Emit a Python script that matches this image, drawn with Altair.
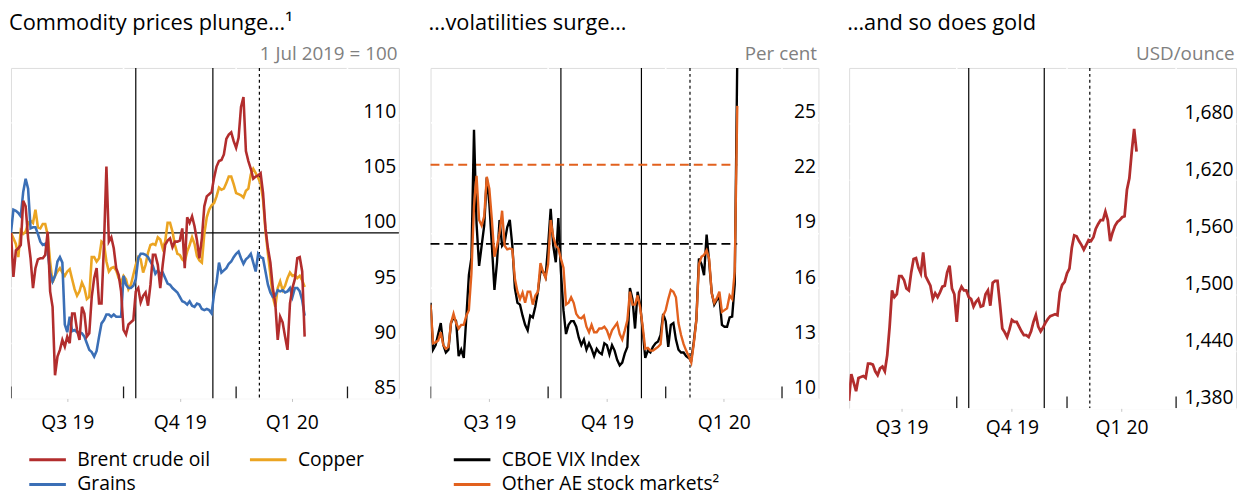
import altair as alt
import pandas as pd

FONT = "Open Sans"
RED = "#b22d2d"
COPPER = "#eba422"
GRAIN = "#3b6fb6"
ORANGE = "#e2611e"
BG = "#d9d9d9"

# x positions: days since 1 July 2019 (2-day steps)
days = list(range(0, 241, 2))
gold_days = list(range(2, 243, 2))

brent = [100.0, 96.0, 98.4, 98.6, 98.9, 102.9, 102.4, 99.5, 97.7, 95.0,
         96.8, 97.6, 97.7, 97.7, 98.0, 100.1, 94.7, 93.3, 87.1, 88.8,
         89.4, 90.3, 89.7, 90.6, 90.0, 92.7, 92.7, 91.2, 90.3, 93.3,
         92.7, 90.6, 90.9, 94.2, 95.9, 96.8, 93.6, 93.6, 98.9, 106.0,
         99.2, 99.6, 98.6, 96.8, 96.2, 94.7, 91.2, 90.8, 91.7, 91.9,
         92.1, 94.7, 95.0, 93.7, 94.3, 94.6, 93.4, 95.3, 98.0, 98.0,
         97.1, 95.0, 97.1, 98.9, 99.3, 99.5, 98.7, 99.2, 99.2, 99.3,
         100.4, 96.8, 101.4, 100.9, 101.5, 100.6, 99.3, 97.7, 99.5, 102.4,
         103.3, 103.5, 103.7, 105.0, 106.0, 106.5, 106.6, 107.1, 108.5, 108.9,
         109.1, 108.3, 107.7, 108.6, 111.4, 112.3, 107.4, 106.5, 105.8, 104.9,
         105.1, 105.2, 105.4, 103.6, 100.4, 98.6, 97.3, 95.0, 93.6, 90.3,
         92.4, 91.9, 90.6, 89.4, 93.6, 95.0, 95.8, 97.7, 97.8, 96.5,
         90.6]

copper = [100.0, 99.5, 99.0, 97.8, 100.2, 99.9, 100.1, 100.9, 101.1, 100.9,
          102.1, 100.5, 100.4, 100.8, 100.8, 99.8, 97.4, 95.5, 96.1, 96.5,
          96.8, 96.4, 96.1, 96.5, 96.7, 95.8, 94.9, 94.3, 94.7, 95.5,
          95.0, 94.0, 94.2, 97.8, 97.8, 97.4, 97.7, 99.2, 99.0, 97.4,
          96.5, 96.8, 96.9, 96.6, 95.9, 95.5, 96.1, 95.8, 94.9, 95.3,
          96.2, 97.1, 97.8, 97.6, 96.4, 97.1, 98.2, 98.9, 99.0, 98.9,
          99.6, 99.4, 98.6, 99.2, 100.9, 100.9, 100.1, 98.9, 98.1, 98.0,
          97.6, 97.4, 98.3, 98.9, 99.6, 99.0, 97.9, 97.5, 97.3, 99.9,
          101.4, 102.1, 102.5, 102.7, 103.3, 104.1, 103.9, 104.0, 104.5, 105.1,
          105.1, 104.4, 103.6, 103.5, 103.4, 103.2, 103.8, 104.0, 105.3, 105.8,
          105.4, 105.0, 104.5, 103.0, 100.2, 98.1, 96.2, 94.2, 93.3, 95.0,
          95.6, 94.8, 95.2, 95.9, 96.4, 96.1, 96.2, 95.9, 96.1, 95.7,
          95.1]

grains = [100.0, 102.1, 102.0, 101.8, 101.5, 103.7, 104.9, 104.0, 100.4, 100.5,
          100.5, 99.9, 99.2, 98.9, 99.0, 98.3, 96.4, 95.6, 96.1, 97.4,
          97.8, 97.3, 91.7, 91.0, 92.4, 91.1, 91.2, 91.0, 91.0, 90.9,
          90.6, 90.0, 89.4, 89.2, 88.8, 89.3, 90.6, 91.8, 92.1, 92.6,
          92.6, 92.4, 92.6, 92.4, 92.4, 92.4, 96.1, 95.3, 95.0, 95.0,
          95.2, 95.8, 97.7, 98.1, 98.1, 98.0, 97.8, 97.4, 97.0, 96.3,
          96.6, 96.3, 96.4, 95.9, 95.4, 95.3, 95.0, 94.8, 94.6, 94.2,
          93.8, 93.7, 93.5, 93.8, 93.4, 93.3, 93.6, 93.5, 93.1, 93.0,
          93.1, 93.0, 92.7, 94.5, 95.5, 97.3, 96.4, 96.6, 96.8, 97.2,
          97.4, 97.8, 98.1, 98.3, 97.7, 97.2, 97.6, 97.8, 98.1, 97.3,
          96.5, 98.1, 97.8, 97.7, 96.5, 95.3, 94.6, 94.2, 94.3, 94.8,
          94.7, 94.8, 94.6, 94.7, 95.0, 94.2, 95.0, 95.0, 94.7, 93.9,
          92.5]

vix = [15.2, 12.65, 12.9, 13.5, 14.1, 12.9, 12.5, 12.65, 14.1, 14.4,
       14.2, 12.3, 12.65, 12.2, 14.4, 16.7, 17.65, 24.6, 19.5, 17.2,
       18.3, 19.4, 22.0, 20.6, 18.3, 15.9, 17.4, 19.7, 18.3, 18.5,
       19.3, 19.7, 18.3, 16.0, 15.2, 15.1, 14.5, 14.0, 13.7, 14.5,
       14.4, 15.0, 15.8, 16.9, 16.9, 16.6, 18.3, 20.3, 18.3, 17.4,
       19.8, 16.9, 14.8, 13.5, 14.0, 14.2, 14.2, 13.9, 13.3, 12.9,
       13.2, 12.65, 13.0, 12.7, 12.3, 12.7, 12.5, 12.4, 13.0, 12.9,
       12.4, 12.9, 12.6, 12.1, 11.8, 11.95, 12.45, 12.8, 16.0, 15.4,
       13.8, 15.8, 15.1, 13.7, 12.2, 12.6, 12.5, 12.8, 13.0, 13.1,
       13.45, 14.6, 14.2, 12.8, 14.0, 14.1, 13.2, 12.65, 12.5, 12.5,
       12.3, 12.2, 12.1, 13.1, 14.3, 17.6, 17.3, 16.7, 18.9, 17.4,
       15.75, 15.1, 15.35, 15.5, 14.0, 13.9, 13.9, 14.4, 14.45, 16.2,
       28.5]

other_ae = [15.1, 13.0, 13.05, 13.15, 13.6, 12.9, 12.7, 12.8, 14.1, 14.6,
            14.1, 13.8, 14.0, 14.0, 14.5, 14.8, 16.8, 20.45, 22.1, 19.7,
            19.4, 19.9, 22.05, 21.4, 19.7, 17.7, 18.3, 19.0, 20.2, 18.3,
            18.1, 18.15, 18.1, 16.5, 15.8, 15.4, 15.75, 15.2, 15.8, 15.8,
            15.1, 15.6, 15.8, 17.35, 16.9, 16.55, 17.3, 19.7, 18.8, 18.3,
            18.15, 17.6, 17.1, 15.1, 15.2, 15.5, 15.2, 14.6, 14.4, 14.35,
            14.5, 13.9, 13.6, 14.0, 13.6, 13.6, 13.8, 13.8, 13.9, 13.7,
            13.3, 13.7, 13.9, 14.1, 13.5, 13.2, 13.7, 14.25, 15.8, 15.1,
            15.1, 15.6, 14.95, 13.9, 12.7, 12.75, 12.6, 12.6, 12.7, 12.8,
            12.95, 14.5, 14.8, 15.4, 15.9, 15.8, 15.5, 14.1, 13.45, 12.95,
            12.6, 12.3, 11.95, 13.0, 14.25, 17.3, 17.7, 17.8, 18.05, 17.6,
            15.7, 15.2, 15.45, 15.8, 14.7, 14.8, 14.9, 15.6, 15.4, 16.9,
            25.9]

gold = [1388, 1416, 1407, 1398, 1412, 1413, 1414, 1412, 1427, 1427,
        1426, 1419, 1415, 1422, 1424, 1419, 1436, 1466, 1504, 1497,
        1500, 1519, 1519, 1515, 1506, 1504, 1523, 1537, 1538, 1528,
        1522, 1544, 1519, 1514, 1509, 1495, 1501, 1497, 1502, 1508,
        1509, 1523, 1530, 1506, 1500, 1471, 1502, 1508, 1504, 1504,
        1497, 1495, 1487, 1492, 1495, 1487, 1488, 1500, 1504, 1488,
        1512, 1514, 1514, 1490, 1464, 1460, 1455, 1463, 1473, 1471,
        1471, 1466, 1461, 1457, 1457, 1455, 1461, 1471, 1478, 1466,
        1461, 1465, 1470, 1474, 1477, 1478, 1479, 1478, 1502, 1510,
        1513, 1522, 1527, 1549, 1562, 1561, 1556, 1552, 1547, 1552,
        1557, 1556, 1560, 1569, 1574, 1578, 1578, 1587, 1578, 1556,
        1565, 1572, 1576, 1578, 1581, 1582, 1610, 1622, 1650, 1674,
        1650]

# long-run averages (dashed lines, panel 2)
vix_avg = 18.4
other_avg = 22.7
avg_span = [0, 240]

quarter_starts = [0, 92, 184, 275]
quarter_mid = [46, 138, 229.5]
quarter_labels = ["Q3 19", "Q4 19", "Q1 20"]
event_days = [102, 165]     # 11 Oct 2019, 13 Dec 2019
event_dashed = [203]        # 20 Jan 2020

label_expr = "''"
for m, l in reversed(list(zip(quarter_mid, quarter_labels))):
    label_expr = f"datum.value == {m} ? '{l}' : {label_expr}"


def x_enc(field, xdom, labpad):
    return alt.X(field, type="quantitative",
                 scale=alt.Scale(domain=xdom, nice=False, zero=False),
                 axis=alt.Axis(values=quarter_mid, labelExpr=label_expr, grid=False,
                               domain=False, ticks=True, tickSize=3, tickColor="#c4c4c4",
                               labelFontSize=19.5, labelFont=FONT, labelColor="black",
                               labelPadding=labpad, title=None))


def y_enc(field, ydom, yvals, yfmt, unit):
    return alt.Y(field, type="quantitative",
                 scale=alt.Scale(domain=ydom, nice=False, zero=False),
                 axis=alt.Axis(orient="right", values=yvals, format=yfmt, grid=True,
                               gridColor="white", gridWidth=1.6, ticks=False, tickSize=0,
                               domain=False, labelAlign="right", labelPadding=-3,
                               labelBaseline="alphabetic", labelOffset=-5,
                               labelFontSize=19.5, labelFont=FONT, labelColor="black",
                               minExtent=0, title=unit, titleAngle=0, titleAlign="right",
                               titleBaseline="alphabetic", titleX=-2, titleY=-9,
                               titleFontSize=19, titleFont=FONT, titleColor="#808080",
                               titleFontWeight="normal"))


def frame_layers(xdom, h, labpad):
    q = alt.Chart(pd.DataFrame({"day": quarter_starts[1:]})).mark_rule(
        color="white", strokeWidth=1.6, clip=True).encode(x=x_enc("day", xdom, labpad))
    ev = alt.Chart(pd.DataFrame({"day": event_days})).mark_rule(
        color="black", strokeWidth=1.2, clip=True).encode(x=x_enc("day", xdom, labpad))
    evd = alt.Chart(pd.DataFrame({"day": event_dashed})).mark_rule(
        color="black", strokeWidth=1.2, strokeDash=[3, 3], clip=True).encode(
        x=x_enc("day", xdom, labpad))
    tk = alt.Chart(pd.DataFrame({"day": quarter_starts})).mark_rule(
        color="#1a1a1a", strokeWidth=1.3, clip=True).encode(
        x=x_enc("day", xdom, labpad), y=alt.value(h - 12), y2=alt.value(h))
    return [q, ev, evd, tk]


def title(t):
    return alt.TitleParams(t, anchor="start", frame="group", fontSize=22, font=FONT,
                           fontWeight="normal", color="black", baseline="alphabetic",
                           offset=-8, dx=-2)


def legend(x, cols):
    return alt.Legend(orient="none", legendX=x, legendY=386, title=None, columns=cols,
                      direction="horizontal",
                      symbolType="stroke", symbolStrokeWidth=3, symbolSize=1369,
                      labelFontSize=19.5, labelFont=FONT, labelColor="black",
                      labelOffset=10, labelLimit=0, columnPadding=38, rowPadding=5,
                      clipHeight=20, padding=0)


# ---------- panel 1 ----------
W1, H1 = 392, 334
X1 = [0, 317]
Y1 = [85, 114.93]
series1 = ["Brent crude oil", "Copper", "Grains"]
df1 = pd.DataFrame({
    "day": days * 3,
    "value": copper + grains + brent,
    "series": ["Copper"] * len(days) + ["Grains"] * len(days) + ["Brent crude oil"] * len(days),
})
unit1 = "1 Jul 2019 = 100"
yv1 = [85, 90, 95, 100, 105, 110]
h100 = alt.Chart(pd.DataFrame({"v": [100]})).mark_rule(color="black", strokeWidth=1.2).encode(
    y=y_enc("v", Y1, yv1, "d", unit1))
lines1 = alt.Chart(df1).mark_line(strokeWidth=2.6, clip=True).encode(
    x=x_enc("day", X1, 12),
    y=y_enc("value", Y1, yv1, "d", unit1),
    color=alt.Color("series:N", sort=series1,
                    scale=alt.Scale(domain=series1, range=[RED, COPPER, GRAIN]),
                    legend=legend(17, 2)),
)
p1 = alt.layer(*frame_layers(X1, H1, 12), h100, lines1).properties(
    width=W1, height=H1, title=title("Commodity prices plunge…¹"))

# ---------- panel 2 ----------
W2, H2 = 392, 334
X2 = [0, 303.5]
Y2 = [10, 27.96]
yv2 = [10, 13, 16, 19, 22, 25]
unit2 = "Per cent"
series2 = ["CBOE VIX Index", "Other AE stock markets²"]
df2 = pd.DataFrame({
    "day": days * 2,
    "value": vix + other_ae,
    "series": [series2[0]] * len(days) + [series2[1]] * len(days),
})
avg_df_v = pd.DataFrame({"x0": [avg_span[0]], "x1": [avg_span[1]], "v": [vix_avg]})
avg_df_o = pd.DataFrame({"x0": [avg_span[0]], "x1": [avg_span[1]], "v": [other_avg]})
avg_v = alt.Chart(avg_df_v).mark_rule(color="black", strokeWidth=2, strokeDash=[9, 5]).encode(
    x=x_enc("x0", X2, 12), x2="x1", y=y_enc("v", Y2, yv2, "d", unit2))
avg_o = alt.Chart(avg_df_o).mark_rule(color=ORANGE, strokeWidth=2, strokeDash=[9, 5]).encode(
    x=x_enc("x0", X2, 12), x2="x1", y=y_enc("v", Y2, yv2, "d", unit2))
lines2 = alt.Chart(df2).mark_line(strokeWidth=2.4, clip=True).encode(
    x=x_enc("day", X2, 12),
    y=y_enc("value", Y2, yv2, "d", unit2),
    color=alt.Color("series:N", sort=series2,
                    scale=alt.Scale(domain=series2, range=["black", ORANGE]),
                    legend=legend(22, 1)),
)
p2 = alt.layer(*frame_layers(X2, H2, 12), avg_v, avg_o, lines2).properties(
    width=W2, height=H2, title=title("…volatilities surge…"))

# ---------- panel 3 ----------
W3, H3 = 391, 344
X3 = [2.2, 325]
Y3 = [1380, 1738]
yv3 = [1380, 1440, 1500, 1560, 1620, 1680]
unit3 = "USD/ounce"
df3 = pd.DataFrame({"day": gold_days, "value": gold})
lines3 = alt.Chart(df3).mark_line(strokeWidth=2.8, clip=True, color=RED).encode(
    x=x_enc("day", X3, 7.5),
    y=y_enc("value", Y3, yv3, ",d", unit3),
)
p3 = alt.layer(*frame_layers(X3, H3, 7.5), lines3).properties(
    width=W3, height=H3, title=title("…and so does gold"))

chart = alt.hconcat(p1, p2, p3, spacing=27).resolve_scale(
    color="independent", x="independent", y="independent"
).properties(
    padding={"left": 0, "top": 1, "right": 2, "bottom": 0}
).configure_view(fill=BG, stroke=None).configure(font=FONT)

chart.save("out.html", embed_options={"renderer": "svg", "actions": False})
